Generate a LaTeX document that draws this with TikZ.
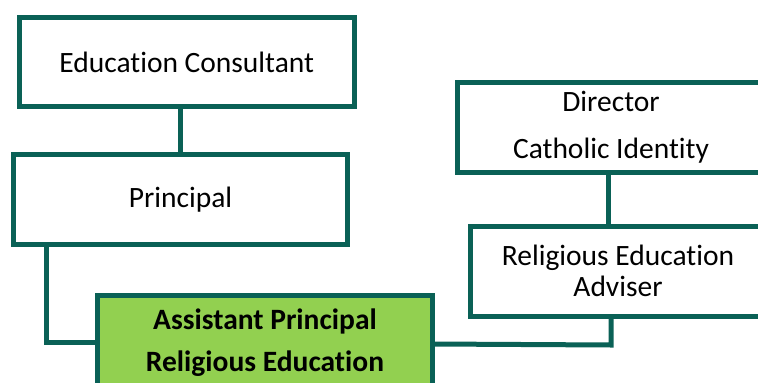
\documentclass[tikz,border=0pt]{standalone}
\usepackage{fontspec}
\setmainfont[Ligatures={NoCommon}]{Carlito}
\definecolor{orgteal}{RGB}{10,97,86}
\definecolor{apgreen}{RGB}{146,208,80}
\begin{document}
\begin{tikzpicture}[x=1pt,y=-1pt,
  box/.style={draw=orgteal,line width=5pt,fill=white,inner sep=0pt,outer sep=0pt,
    align=center,font=\fontsize{29.5}{35}\selectfont,text=black},
  conn/.style={draw=orgteal,line width=5pt}]
\useasboundingbox (0,0) rectangle (758,383);
\clip (0,0) rectangle (758,383);
\node[box,minimum width=334.5pt,minimum height=89pt] (ec) at (186.75,62) {Education Consultant};
\node[box,minimum width=334pt,minimum height=90pt] (pr) at (180.5,199.5) {Principal};
\node[box,fill=apgreen,minimum width=335pt,minimum height=95pt,font=\bfseries\fontsize{29.5}{35}\selectfont] (ap) at (265,343) {Assistant Principal\\[7pt]Religious Education};
\node[box,minimum width=307pt,minimum height=89.5pt] (dr) at (611,127.25) {Director\\[12pt]Catholic Identity};
\node[box,minimum width=296pt,minimum height=89.5pt] (re) at (618,271.25) {Religious Education\\[-4pt]Adviser};
\draw[conn] (pr.north) -- (pr.north |- ec.south);
\draw[conn] ([xshift=32.5pt]pr.south west) |- ([yshift=1pt]ap.west);
\draw[conn] ([xshift=-3pt]dr.south) -- ([xshift=-3pt]dr.south |- re.north);
\draw[conn] ([xshift=-7pt]re.south) -- ++(0,29) -- ([yshift=-1pt]ap.east);
\end{tikzpicture}
\end{document}
